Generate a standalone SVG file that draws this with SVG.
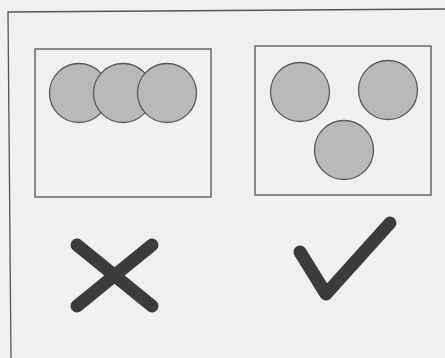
<svg xmlns="http://www.w3.org/2000/svg" width="445" height="358" viewBox="0 0 445 358">
<style>
.box{fill:none;stroke:#555;stroke-width:1.3}
.dot{fill:#b8b8b6;stroke:#5a5a5a;stroke-width:1.3}
.mark{fill:none;stroke:#3c3c3c;stroke-width:13;stroke-linecap:round;stroke-linejoin:round}
</style>
<rect width="445" height="358" fill="#eef1ee"/>
<path d="M11,358 L8,12 L445,9" fill="none" stroke="#555" stroke-width="1.3"/>
<g id="crowded">
<rect class="box" x="35" y="49" width="176" height="148"/>
<circle class="dot" cx="79" cy="93" r="29.5"/>
<circle class="dot" cx="123" cy="93" r="29.5"/>
<circle class="dot" cx="167" cy="93" r="29.5"/>
</g>
<g id="spaced">
<rect class="box" x="255" y="46" width="176" height="149"/>
<circle class="dot" cx="300" cy="92" r="29.5"/>
<circle class="dot" cx="388" cy="90" r="29.5"/>
<circle class="dot" cx="344" cy="150" r="29.5"/>
</g>
<g id="cross">
<path class="mark" d="M77,245 L152,306 M152,245 L77,306"/>
</g>
<g id="check">
<path class="mark" d="M300,252 L326,294 L390,223"/>
</g>
</svg>
